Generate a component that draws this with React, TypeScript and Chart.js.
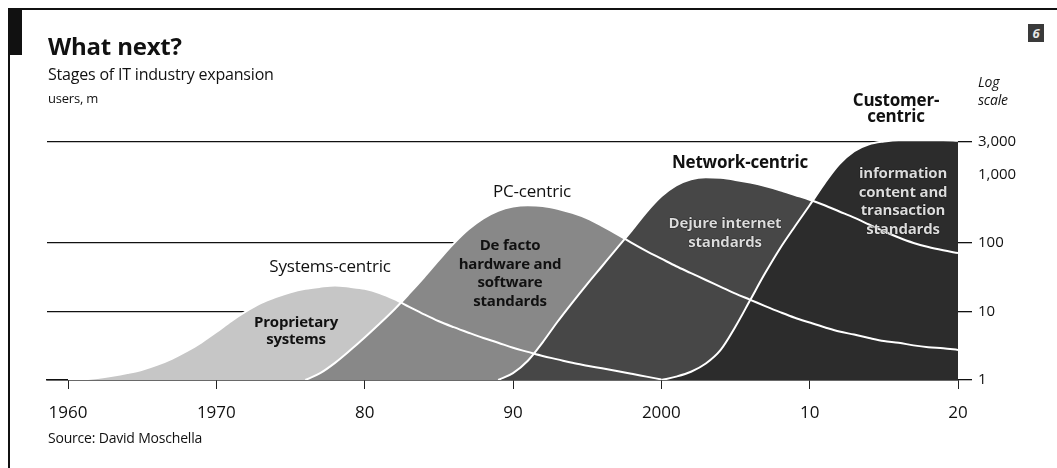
import React, { useEffect, useRef } from "react";
import { Chart, registerables } from "chart.js";

Chart.register(...registerables);

const N = null;

// years on the x axis
const years = [
  1960, 1961, 1962, 1963, 1964, 1965, 1966, 1967, 1968, 1969,
  1970, 1971, 1972, 1973, 1974, 1975, 1976, 1977, 1978, 1979,
  1980, 1981, 1982, 1983, 1984, 1985, 1986, 1987, 1988, 1989,
  1990, 1991, 1992, 1993, 1994, 1995, 1996, 1997, 1998, 1999,
  2000, 2001, 2002, 2003, 2004, 2005, 2006, 2007, 2008, 2009,
  2010, 2011, 2012, 2013, 2014, 2015, 2016, 2017, 2018, 2019,
  2020,
];

// users, m (log scale)
const systemsCentric = [
  1, 1.02, 1.07, 1.15, 1.26, 1.41, 1.66, 2.04, 2.63, 3.55,
  5.01, 7.24, 10, 13.2, 16.2, 19.1, 21.4, 22.9, 24, 22.9,
  21.4, 18.6, 15.1, 11.7, 9.1, 7.2, 5.9, 4.9, 4.1, 3.5,
  2.95, 2.57, 2.24, 2.0, 1.78, 1.62, 1.48, 1.35, 1.23, 1.12,
  1.02, N, N, N, N, N, N, N, N, N,
  N, N, N, N, N, N, N, N, N, N,
  N,
];

const pcCentric = [
  N, N, N, N, N, N, N, N, N, N,
  N, N, N, N, N, N, 1, 1.26, 1.78, 2.69,
  4.17, 6.61, 10.7, 18.2, 31.6, 56.2, 97.7, 158, 229, 295,
  339, 355, 347, 316, 275, 229, 178, 135, 100, 75.9,
  58.9, 45.7, 36.3, 28.8, 22.9, 18.2, 14.8, 12.0, 9.8, 8.1,
  6.9, 5.9, 5.1, 4.6, 4.1, 3.7, 3.5, 3.2, 3.0, 2.9,
  2.75,
];

const networkCentric = [
  N, N, N, N, N, N, N, N, N, N,
  N, N, N, N, N, N, N, N, N, N,
  N, N, N, N, N, N, N, N, N, 1,
  1.26, 1.91, 3.55, 7.08, 13.5, 25.1, 45.7, 83.2, 151, 282,
  479, 692, 851, 912, 891, 832, 759, 676, 589, 501,
  427, 355, 288, 234, 186, 148, 120, 100, 87, 78,
  71,
];

const customerCentric = [
  N, N, N, N, N, N, N, N, N, N,
  N, N, N, N, N, N, N, N, N, N,
  N, N, N, N, N, N, N, N, N, N,
  N, N, N, N, N, N, N, N, N, N,
  1, 1.12, 1.32, 1.74, 2.75, 6.03, 14.8, 36.3, 83.2, 174,
  355, 741, 1413, 2188, 2754, 3020, 3162, 3162, 3162, 3162,
  3090,
];

const xTickValues = [1960, 1970, 1980, 1990, 2000, 2010, 2020];
const xTickLabels = ["1960", "1970", "80", "90", "2000", "10", "20"];
const yTickValues = [1, 10, 100, 1000, 3000];
const yTickLabels = ["1", "10", "100", "1,000", "3,000"];

const seriesNames = ["Systems-centric", "PC-centric", "Network-centric", "Customer-centric"];
const seriesData = [systemsCentric, pcCentric, networkCentric, customerCentric];
const seriesFills = ["#c6c6c6", "#888888", "#474747", "#2c2c2c"];

const FONT = "'Open Sans', 'DejaVu Sans', sans-serif";

function pts(arr: (number | null)[]) {
  return years.map((yr, i) => ({ x: yr, y: arr[i] }));
}

type LabelProps = {
  x: number;
  y: number;
  text: string;
  size: number;
  weight?: number;
  color?: string;
  lh?: number;
  italic?: boolean;
  align?: "center" | "left";
  shadow?: string;
};

function Label({ x, y, text, size, weight = 400, color = "#111", lh, italic, align = "center", shadow }: LabelProps) {
  return (
    <div
      style={{
        position: "absolute",
        left: x,
        top: y,
        transform: align === "center" ? "translate(-50%, -50%)" : "translate(0, -50%)",
        whiteSpace: "pre",
        textAlign: align,
        fontFamily: FONT,
        fontSize: size,
        fontWeight: weight,
        fontStyle: italic ? "italic" : "normal",
        color,
        lineHeight: lh ? `${lh}px` : `${size}px`,
        textShadow: shadow,
        letterSpacing: "-0.2px",
      }}
    >
      {text}
    </div>
  );
}

export default function App() {
  const canvasRef = useRef<HTMLCanvasElement | null>(null);

  useEffect(() => {
    const canvas = canvasRef.current;
    if (!canvas) return;

    const fillSets = seriesData.map((arr, i) => ({
      label: seriesNames[i],
      data: pts(arr),
      backgroundColor: seriesFills[i],
      borderWidth: 0,
      borderColor: "rgba(0,0,0,0)",
      fill: "start",
      pointRadius: 0,
      cubicInterpolationMode: "monotone",
      spanGaps: false,
      order: 10 - i,
    }));
    const lineSets = seriesData.map((arr, i) => ({
      label: seriesNames[i] + " line",
      data: pts(arr),
      borderColor: "#ffffff",
      borderWidth: 2,
      fill: false,
      pointRadius: 0,
      cubicInterpolationMode: "monotone",
      spanGaps: false,
      order: 1,
    }));

    const chart = new Chart(canvas, {
      type: "line",
      data: { datasets: [...fillSets, ...lineSets] as any },
      options: {
        animation: false,
        responsive: false,
        maintainAspectRatio: false,
        events: [],
        layout: { padding: { left: 47, right: 39, top: 138, bottom: 38 } },
        plugins: { legend: { display: false }, tooltip: { enabled: false } },
        scales: {
          x: {
            type: "linear",
            min: 1958.584,
            max: 2020,
            z: 1,
            afterBuildTicks: (s: any) => {
              s.ticks = xTickValues.map((v) => ({ value: v }));
            },
            afterFit: (s: any) => {
              s.height = 50;
            },
            grid: { drawOnChartArea: false, drawTicks: true, tickLength: 9, color: "#222", lineWidth: 1 },
            border: { display: true, color: "#111", width: 1.5 },
            ticks: {
              autoSkip: false,
              maxRotation: 0,
              padding: 14,
              color: "#111",
              font: { family: FONT, size: 17 },
              callback: (v: any) => {
                const i = xTickValues.indexOf(Number(v));
                return i >= 0 ? xTickLabels[i] : "";
              },
            },
          },
          y: {
            type: "logarithmic",
            position: "right",
            min: 1,
            max: 3400,
            afterBuildTicks: (s: any) => {
              s.ticks = yTickValues.map((v) => ({ value: v }));
            },
            afterFit: (s: any) => {
              s.width = 60;
            },
            grid: {
              drawOnChartArea: true,
              drawTicks: true,
              tickLength: 14,
              lineWidth: 1.3,
              color: (ctx: any) => (ctx.tick && ctx.tick.value === 1000 ? "rgba(0,0,0,0)" : "#111"),
            },
            border: { display: false },
            ticks: {
              padding: 6,
              color: "#111",
              font: { family: FONT, size: 15 },
              callback: (v: any) => {
                const i = yTickValues.indexOf(Number(v));
                return i >= 0 ? yTickLabels[i] : "";
              },
            },
          },
        },
      },
    });
    return () => chart.destroy();
  }, []);

  return (
    <div style={{ position: "absolute", left: 0, top: 0, width: 1057, height: 468, background: "#fff", overflow: "hidden" }}>
      {/* frame */}
      <div style={{ position: "absolute", left: 8, top: 8, width: 1049, height: 2, background: "#111" }} />
      <div style={{ position: "absolute", left: 8, top: 8, width: 2, height: 460, background: "#111" }} />
      <div style={{ position: "absolute", left: 8, top: 9, width: 14, height: 46, background: "#111" }} />
      <div
        style={{
          position: "absolute",
          left: 1028,
          top: 24,
          width: 16,
          height: 18,
          background: "#3a3a3a",
          color: "#e6e6e6",
          fontFamily: FONT,
          fontWeight: 700,
          fontStyle: "italic",
          fontSize: 13,
          lineHeight: "18px",
          textAlign: "center",
        }}
      >
        6
      </div>

      <canvas ref={canvasRef} width={1057} height={468} style={{ position: "absolute", left: 0, top: 0 }} />

      <Label x={48} y={46} text="What next?" size={24} weight={700} align="left" />
      <Label x={48} y={74} text="Stages of IT industry expansion" size={16} align="left" />
      <Label x={48} y={98} text="users, m" size={13} align="left" />
      <Label x={978} y={91} text={"Log\nscale"} size={14} italic lh={18} align="left" />
      <Label x={48} y={438} text="Source: David Moschella" size={14} align="left" />

      <Label x={330} y={265} text="Systems-centric" size={17} />
      <Label x={296} y={330} text={"Proprietary\nsystems"} size={15} weight={700} lh={17} />
      <Label x={532} y={190} text="PC-centric" size={17} />
      <Label x={510} y={272} text={"De facto\nhardware and\nsoftware\nstandards"} size={15} weight={700} lh={18.5} />
      <Label x={740} y={161} text="Network-centric" size={17} weight={700} />
      <Label
        x={725}
        y={232}
        text={"Dejure internet\nstandards"}
        size={15}
        weight={700}
        lh={19}
        color="#dcdcdc"
        shadow="0 0 1px #000, 0 0 1px #000"
      />
      <Label x={896} y={108} text={"Customer-\ncentric"} size={17} weight={700} lh={16} />
      <Label
        x={903}
        y={200}
        text={"information\ncontent and\ntransaction\nstandards"}
        size={15}
        weight={700}
        lh={18.5}
        color="#dcdcdc"
        shadow="0 0 1px #000, 0 0 1px #000"
      />
    </div>
  );
}
